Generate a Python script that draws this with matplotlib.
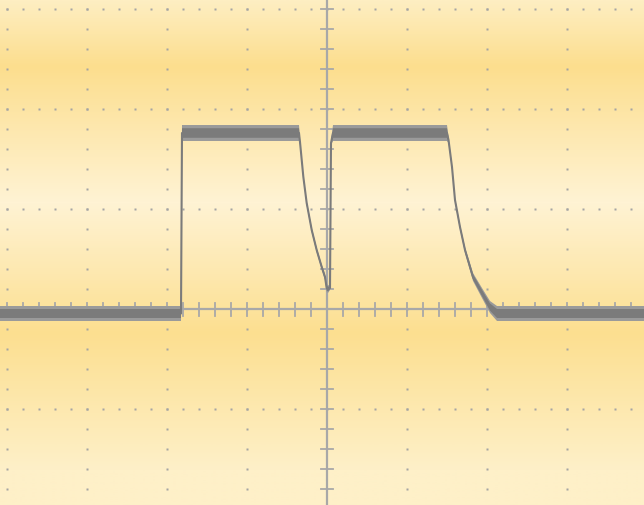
import numpy as np
import matplotlib
matplotlib.use("Agg")
import matplotlib.pyplot as plt
from matplotlib.colors import LinearSegmentedColormap

# ---- data (time and level in screen divisions) ----
t_trace = [-4.0875, -1.825, -1.8125, -0.35, -0.3375, -0.296, -0.254, -0.191,
           -0.129, -0.066, -0.025, -0.004, 0.0125, 0.0375, 0.05, 0.075,
           1.5, 1.519, 1.5625, 1.6, 1.6625, 1.725, 1.825, 1.9375, 2.0375,
           2.125, 3.9625]
v_trace = [-0.045, -0.045, 1.76, 1.76, 1.67, 1.323, 1.06, 0.79,
           0.59, 0.42, 0.32, 0.21, 0.20, 0.21, 1.66, 1.76,
           1.76, 1.69, 1.42, 1.09, 0.82, 0.59, 0.32, 0.16, 0.02,
           -0.045, -0.045]
noise_half = [0.075, 0.075, 0.08, 0.08, 0.03, 0.025, 0.025, 0.025,
              0.025, 0.025, 0.03, 0.04, 0.04, 0.02, 0.02, 0.08,
              0.08, 0.03, 0.025, 0.025, 0.025, 0.03, 0.04, 0.05, 0.06,
              0.075, 0.075]

# background colour stops (fraction from top, colour)
bg_pos = [0.0, 0.13, 0.40, 0.66, 0.93, 1.0]
bg_col = ["#FEEEC2", "#FCDE8E", "#FFF3D4", "#FCDF90", "#FEF0C8", "#FEF0C8"]

XMIN, XMAX = -4.0875, 3.9625
YMIN, YMAX = -1.96, 3.09

fig = plt.figure(figsize=(6.44, 5.05), dpi=100)
ax = fig.add_axes([0, 0, 1, 1])
ax.axis("off")

cmap = LinearSegmentedColormap.from_list("bg", list(zip(bg_pos, bg_col)))
grad = np.linspace(0, 1, 512).reshape(-1, 1)
ax.imshow(grad, cmap=cmap, aspect="auto", extent=[XMIN, XMAX, YMIN, YMAX],
          origin="upper", zorder=0, interpolation="bilinear")
ax.set_xlim(XMIN, XMAX)
ax.set_ylim(YMIN, YMAX)

dot_col = "#a4a4a4"
cols = [c for c in range(-4, 5) if c != 0]
rows = [r for r in range(-3, 4) if r != 0]
for c in cols:
    ys = np.arange(-3, 3.01, 0.2)
    ax.plot([c] * len(ys), ys, ls="none", marker="s", ms=1.6, color=dot_col,
            mec="none", zorder=1)
for r in rows:
    xs = np.arange(-4, 4.01, 0.2)
    ax.plot(xs, [r] * len(xs), ls="none", marker="s", ms=1.6, color=dot_col,
            mec="none", zorder=1)

axis_col = "#a8a8a8"
ax.axvline(0, color=axis_col, lw=1.6, zorder=2)
ax.axhline(0, color=axis_col, lw=1.6, zorder=2)
for x in np.arange(-4, 4.01, 0.2):
    ax.plot([x, x], [-0.065, 0.065], color=axis_col, lw=1.3, zorder=2)
for y in np.arange(-3, 3.01, 0.2):
    ax.plot([-0.08, 0.08], [y, y], color=axis_col, lw=1.3, zorder=2)

t = np.array(t_trace)
v = np.array(v_trace)
h = np.array(noise_half)
ax.fill_between(t, v - h, v + h, color="#9a9a9a", lw=0, zorder=3)
ax.fill_between(t, v - 0.6 * h, v + 0.6 * h, color="#7b7b7b", lw=0, zorder=3)
ax.plot(t, v, color="#7b7b7b", lw=1.5, zorder=3)

fig.savefig("out.png", dpi=100)
